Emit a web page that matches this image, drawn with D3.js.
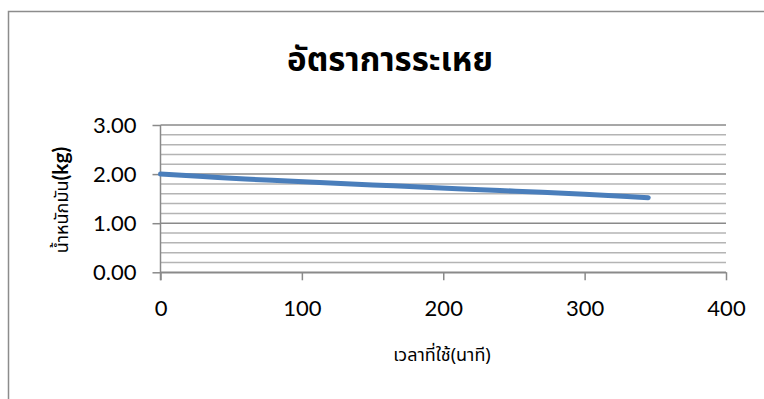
<!DOCTYPE html>
<html>
<head>
<meta charset="utf-8">
<script src="https://cdn.jsdelivr.net/npm/d3@7"></script>
<style>
  html, body { margin: 0; padding: 0; background: #fff; }
  svg { display: block; }
</style>
</head>
<body>
<svg id="chart" width="764" height="399"></svg>
<script>
// Evaporation: remaining oil weight over elapsed time
const timeMinutes = [0, 30, 60, 90, 120, 150, 180, 210, 240, 270, 300, 330, 345];
const weightKg    = [2.00, 1.95, 1.90, 1.86, 1.82, 1.78, 1.74, 1.70, 1.665, 1.63, 1.59, 1.545, 1.52];
const xTicks = [0, 100, 200, 300, 400];
const yTicks = [0, 1, 2, 3];
const yMinor = [0.2, 0.4, 0.6, 0.8, 1.2, 1.4, 1.6, 1.8, 2.2, 2.4, 2.6, 2.8];
const titleText = "อัตราการระเหย";
const xTitle = "เวลาที่ใช้(นาที)";
const yTitleThai = "น้ำหนักมัน";
const yTitleUnit = "(kg)";

const thaiFont = "'Noto Sans Thai', 'Noto Sans', 'DejaVu Sans', sans-serif";
const numFont = "Lato, 'Noto Sans', sans-serif";

const svg = d3.select("#chart");

// chart frame
svg.append("rect")
  .attr("x", 8.5).attr("y", 11.5)
  .attr("width", 770).attr("height", 400)
  .attr("fill", "none").attr("stroke", "#8c8c8c").attr("stroke-width", 1.5);

const x = d3.scaleLinear().domain([0, 400]).range([160.5, 726]);
const y = d3.scaleLinear().domain([0, 3]).range([272.3, 125]);

// gridlines
svg.append("g").selectAll("line.minor").data(yMinor).join("line")
  .attr("x1", x(0)).attr("x2", x(400))
  .attr("y1", d => y(d)).attr("y2", d => y(d))
  .attr("stroke", "#b4b4b4").attr("stroke-width", 1.5);
svg.append("g").selectAll("line.major").data(yTicks).join("line")
  .attr("x1", x(0)).attr("x2", x(400))
  .attr("y1", d => y(d)).attr("y2", d => y(d))
  .attr("stroke", "#8a8a8a").attr("stroke-width", 1.5);

// y axis
const yAxis = svg.append("g")
  .attr("transform", `translate(${x(0)},0)`)
  .call(d3.axisLeft(y).tickValues(yTicks).tickSize(8).tickPadding(16).tickFormat(d3.format(".2f")));
yAxis.select(".domain").attr("d", `M0,${y(3)}V${y(0) + 8}`);

// x axis
const xAxis = svg.append("g")
  .attr("transform", `translate(0,${y(0)})`)
  .call(d3.axisBottom(x).tickValues(xTicks).tickSize(8).tickPadding(20).tickSizeOuter(0).tickFormat(d3.format("d")));

[yAxis, xAxis].forEach(g => {
  g.selectAll(".domain").attr("stroke", "#8a8a8a").attr("stroke-width", 1.5);
  g.selectAll(".tick line").attr("stroke", "#8a8a8a").attr("stroke-width", 1.5);
  g.selectAll(".tick text")
    .attr("fill", "#000")
    .style("font-family", numFont)
    .style("font-size", "22px");
});
yAxis.selectAll(".tick line").attr("x2", -8);

// data line
const line = d3.line()
  .x((d, i) => x(timeMinutes[i]))
  .y(d => y(d))
  .curve(d3.curveMonotoneX);
svg.append("path")
  .datum(weightKg)
  .attr("d", line)
  .attr("fill", "none")
  .attr("stroke", "#4a7ebb")
  .attr("stroke-width", 5)
  .attr("stroke-linecap", "round")
  .attr("stroke-linejoin", "round");

// title
svg.append("text")
  .attr("x", 390).attr("y", 71)
  .attr("text-anchor", "middle")
  .style("font-family", thaiFont)
  .style("font-weight", "bold")
  .style("font-size", "33px")
  .text(titleText);

// x axis title
svg.append("text")
  .attr("x", 442).attr("y", 361)
  .attr("text-anchor", "middle")
  .style("font-family", thaiFont)
  .style("font-size", "18px")
  .text(xTitle);

// y axis title
const yt = svg.append("text")
  .attr("transform", "translate(68,200) rotate(-90)")
  .attr("text-anchor", "middle")
  .style("font-family", thaiFont)
  .style("font-size", "18px");
yt.append("tspan").text(yTitleThai);
yt.append("tspan").style("font-family", numFont).style("font-weight", "bold").style("font-size", "21px").text(yTitleUnit);
</script>
</body>
</html>
